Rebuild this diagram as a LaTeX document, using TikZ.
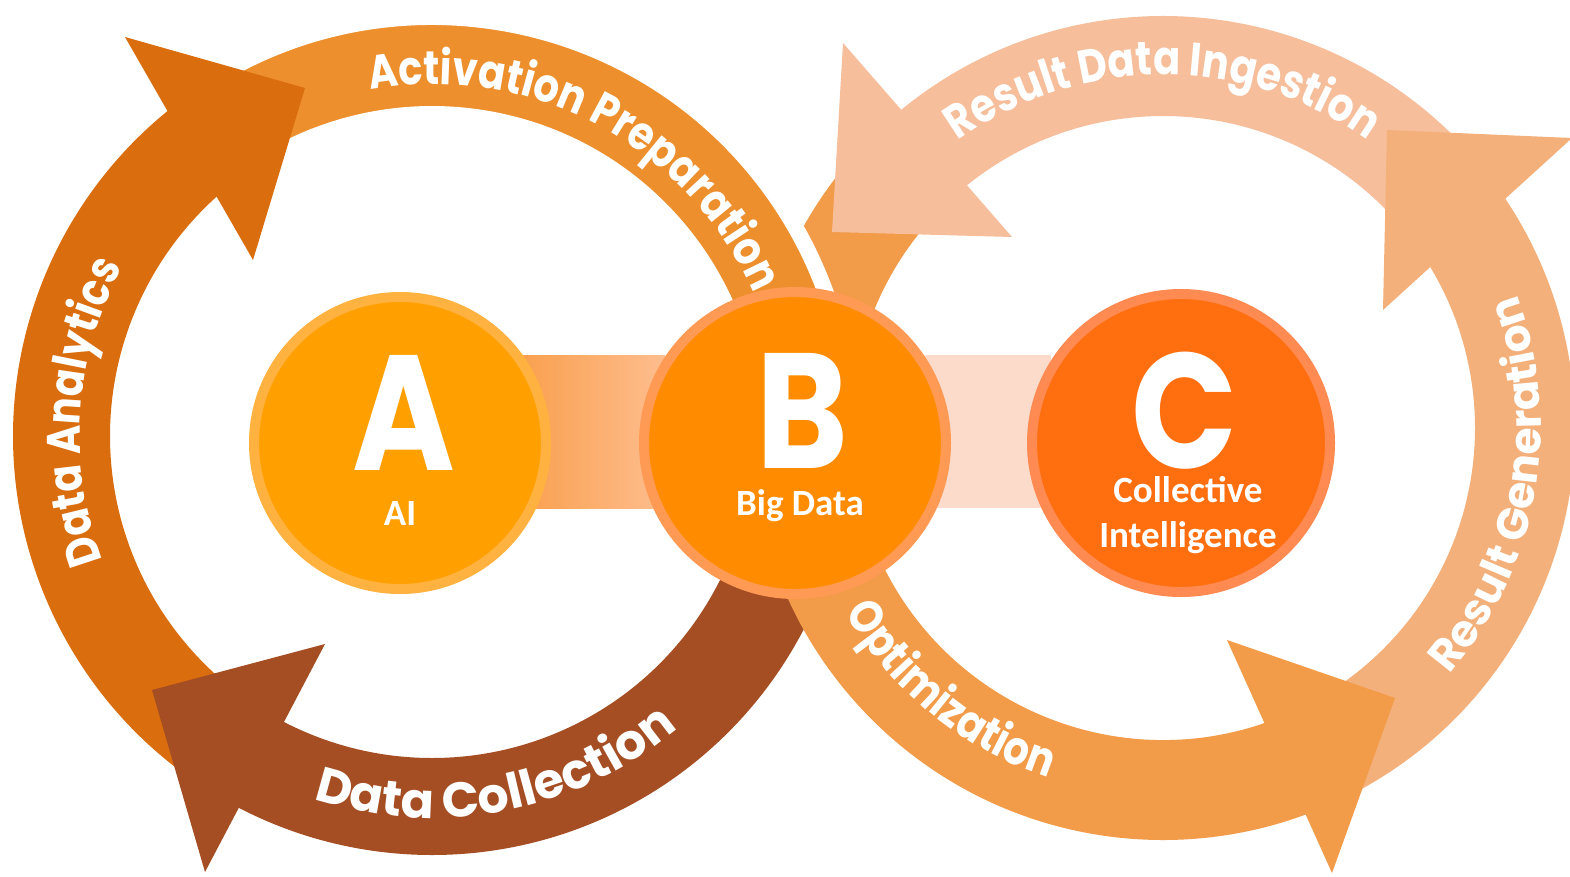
\documentclass[tikz,border=0pt]{standalone}
\usepackage{fontspec}
\newfontfamily\ringfont{Poppins}[FakeStretch=0.85]
\newfontfamily\ringwide{Poppins}
\newfontfamily\lblfont{Carlito}
\usetikzlibrary{calc,decorations.text}

\definecolor{daColor}{HTML}{DA6D0E}
\definecolor{apColor}{HTML}{EC8F2C}
\definecolor{dcColor}{HTML}{A54E23}
\definecolor{rdColor}{HTML}{F6BE9A}
\definecolor{rgColor}{HTML}{F4B07A}
\definecolor{opColor}{HTML}{F29B48}
\definecolor{aFill}{HTML}{FFA000}
\definecolor{aRim}{HTML}{FFB23F}
\definecolor{bFill}{HTML}{FF8C00}
\definecolor{bRim}{HTML}{FF9A55}
\definecolor{cFill}{HTML}{FF6F10}
\definecolor{cRim}{HTML}{FF8A52}
\definecolor{barL}{HTML}{F9A04E}
\definecolor{barR}{HTML}{FEBD8E}
\definecolor{barTwo}{HTML}{FDDBCA}

\newcommand{\ringband}[6]{%
  \fill[#6] ($(#1)+(#2:#5)$) arc[start angle=#2, end angle=#3, radius=#5]
    -- ($(#1)+(#3:#4)$) arc[start angle=#3, end angle=#2, radius=#4] -- cycle;}
\newcommand{\ringtxt}{\ringfont\bfseries\fontsize{47}{47}\selectfont}
\newcommand{\ringbig}{\ringwide\bfseries\fontsize{49}{49}\selectfont}
\newcommand{\ringmid}{\ringwide\bfseries\fontsize{44}{44}\selectfont}
\newcommand{\bigletter}{\ringfont\bfseries\fontsize{164}{164}\selectfont}
\newcommand{\smalllabel}{\lblfont\bfseries\fontsize{37}{37}\selectfont}

\tikzset{
  hub/.style={circle, inner sep=0pt, line width=10pt},
  letter/.style={anchor=base, text=white, font=\bigletter, inner sep=0pt},
  caption/.style={anchor=base, text=white, font=\smalllabel, inner sep=0pt},
  ringlabel/.style 2 args={decorate, decoration={text along path, text align=center, text color=white, text={|#1|#2}}}
}

\begin{document}
\begin{tikzpicture}[x=1pt,y=1pt]
\useasboundingbox (0,0) rectangle (1570,-876);
\fill[white] (0,0) rectangle (1570,-876);
\coordinate (L) at (432,-436);
\coordinate (R) at (1163,-428);
\coordinate (Ac) at (400,-443);
\coordinate (Bc) at (795,-443);
\coordinate (Cc) at (1181,-443);

% connecting bars
\fill[left color=barL, right color=barR] ($(Ac)+(120,88)$) rectangle ($(Bc)+(-130,-65)$);
\fill[barTwo] ($(Bc)+(130,88)$) rectangle ($(Cc)+(-130,-65)$);

% left ring: data collection band (under right ring)
\ringband{L}{-12}{-120}{322}{419}{dcColor}

% right ring bands
\ringband{R}{-62}{36}{312}{412}{rgColor}
\ringband{R}{40}{131}{312}{412}{rdColor}
\ringband{R}{135}{294}{312}{412}{opColor}
% right ring heads
\fill[rdColor] (843,-43) -- (832,-232) -- (1012,-237) -- cycle;
\fill[rgColor] (1387,-130) -- (1572,-138) -- (1383,-310) -- cycle;
\fill[opColor] (1227,-640) -- (1395,-698) -- (1332,-873) -- cycle;

% left ring
\ringband{L}{125}{-8}{322}{419}{apColor, draw=white, line width=16pt}
\ringband{L}{236}{128}{322}{419}{daColor}
\fill[daColor] (125,-37) -- (305,-88) -- (253,-260) -- cycle;
\fill[dcColor] (152,-690) -- (325,-644) -- (205,-872) -- cycle;

% ring labels
\path[ringlabel={\ringtxt}{Activation Preparation}] ($(L)+(112:352)$) arc[start angle=112, end angle=12, radius=352];
\path[ringlabel={\ringtxt}{Data Analytics}] ($(L)+(230:352)$) arc[start angle=230, end angle=122, radius=352];
\path[ringlabel={\ringbig}{Data Collection}] ($(L)+(231:382)$) arc[start angle=231, end angle=331, radius=382];
\path[ringlabel={\ringtxt}{Result Data Ingestion}] ($(R)+(140:353)$) arc[start angle=140, end angle=40, radius=353];
\path[ringlabel={\ringmid}{Result Generation}] ($(R)+(-60:378)$) arc[start angle=-60, end angle=40, radius=378];
\path[ringlabel={\ringtxt}{Optimization}] ($(R)+(181:368)$) arc[start angle=181, end angle=281, radius=368];

% hubs
\node[hub, minimum size=292pt, fill=aFill, draw=aRim] (A) at (Ac) {};
\node[hub, minimum size=302pt, fill=bFill, draw=bRim] (B) at (Bc) {};
\node[hub, minimum size=298pt, fill=cFill, draw=cRim] (C) at (Cc) {};

\node[letter] (Aletter) at (404,-470) {A};
\node[caption] (Aname) at (400,-525) {AI};
\node[letter] (Bletter) at (802,-468) {B};
\node[caption] (Bname) at (800,-515) {Big Data};
\node[letter] (Cletter) at (1185,-468) {C};
\node[caption] (Cname1) at (1188,-502) {Collective};
\node[caption] (Cname2) at (1188,-547) {Intelligence};
\end{tikzpicture}
\end{document}
